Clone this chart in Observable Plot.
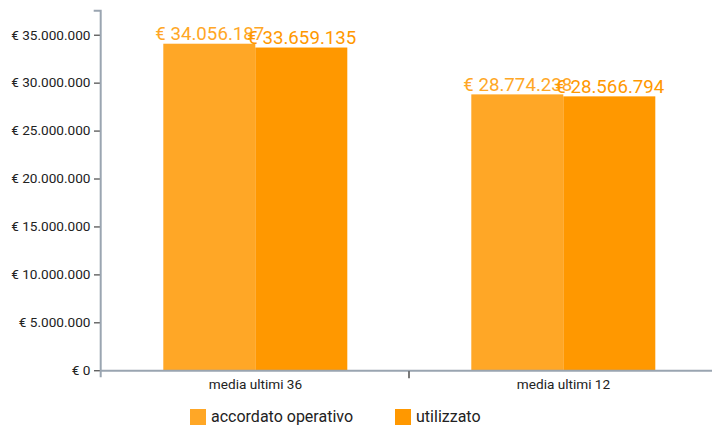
<!DOCTYPE html>
<html>
<head>
<meta charset="utf-8">
<script src="https://cdn.jsdelivr.net/npm/d3@7"></script>
<script src="https://cdn.jsdelivr.net/npm/@observablehq/plot@0.6"></script>
<style>
  html, body { margin: 0; padding: 0; background: #fff; overflow: hidden; }
  body { width: 712px; height: 426px; font-family: Roboto, sans-serif; }
  #chart { height: 396px; }
  #legend { display: flex; align-items: center; padding-left: 190px; margin-top: 11px; font-size: 16px; color: #222; }
  .item { display: flex; align-items: center; margin-right: 42px; }
  .sw { width: 16px; height: 16px; margin-right: 5px; }
</style>
</head>
<body>
<div id="chart"></div>
<div id="legend"></div>
<script>
// ---- data ----
const categories = ["media ultimi 36", "media ultimi 12"];
const series = ["accordato operativo", "utilizzato"];
const accordato = [34056187, 28774238];
const utilizzato = [33659135, 28566794];
const colors = ["#ffa726", "#ff9800"];
const yTicks = [0, 5000000, 10000000, 15000000, 20000000, 25000000, 30000000, 35000000];
const yMax = 37500000;

const data = categories.flatMap((c, i) => [
  {categoria: c, serie: series[0], valore: accordato[i]},
  {categoria: c, serie: series[1], valore: utilizzato[i]}
]);

const itLocale = d3.formatLocale({decimal: ",", thousands: ".", grouping: [3], currency: ["€ ", ""]});
const fmt = v => "€ " + itLocale.format(",")(v);

const plot = Plot.plot({
  width: 717,
  height: 396,
  marginLeft: 100.7,
  marginRight: 0,
  marginTop: 10.7,
  marginBottom: 25.7,
  style: {fontFamily: "Roboto, sans-serif", fontSize: "13.6px", color: "#222", background: "transparent", maxWidth: "none", overflow: "visible"},
  fx: {domain: categories, paddingInner: 0, paddingOuter: 0, label: null, axis: "bottom", tickSize: 0, tickPadding: 9},
  x: {domain: series, paddingInner: 0, paddingOuter: 2 / 3, axis: null},
  y: {domain: [0, yMax], ticks: yTicks, tickFormat: fmt, label: null, tickSize: 7, tickPadding: 4},
  color: {domain: series, range: colors},
  marks: [
    Plot.barY(data, {fx: "categoria", x: "serie", y: "valore", fill: "serie"}),
    Plot.ruleY([0], {stroke: "#9aa5b1", strokeWidth: 2}),
    Plot.text(data, {fx: "categoria", x: "serie", y: "valore", text: d => fmt(d.valore), fill: "serie", fontSize: 18.7, lineAnchor: "bottom", dy: -4})
  ]
});

document.getElementById("chart").appendChild(plot);

// axis domain lines and outer ticks, positioned from Plot's own scales
const ys = plot.scale("y");
const fxs = plot.scale("fx");
const [yBottom, yTop] = ys.range;
const xLeft = fxs.range[0], xRight = fxs.range[1];
const svg = d3.select(plot);
svg.append("path")
  .attr("d", `M${xLeft - 7},${yTop}H${xLeft}V${yBottom + 7}`)
  .attr("fill", "none").attr("stroke", "#9aa5b1").attr("stroke-width", 2);
svg.append("path")
  .attr("d", `M${xRight},${yBottom + 7}V${yBottom}`)
  .attr("fill", "none").attr("stroke", "#9aa5b1").attr("stroke-width", 2);
categories.slice(1).forEach(c => {
  const xb = fxs.apply(c);
  svg.append("line")
    .attr("x1", xb).attr("x2", xb).attr("y1", yBottom + 1).attr("y2", yBottom + 8)
    .attr("stroke", "#222").attr("stroke-width", 1.2);
});

// legend
const legend = d3.select("#legend");
series.forEach((s, i) => {
  const it = legend.append("div").attr("class", "item");
  it.append("div").attr("class", "sw").style("background", colors[i]);
  it.append("span").text(s);
});
</script>
</body>
</html>
